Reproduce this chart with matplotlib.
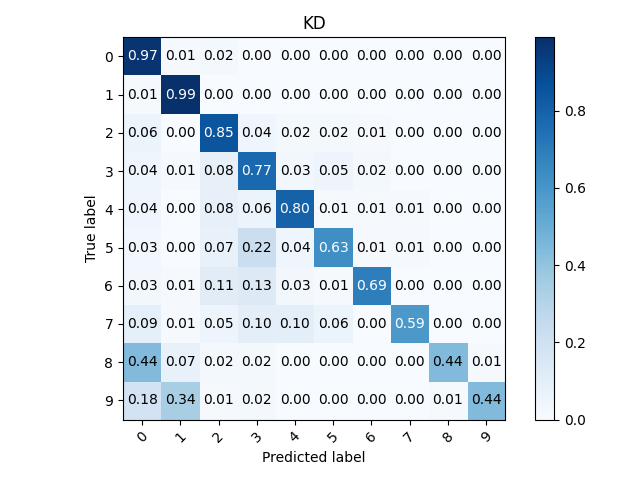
import numpy as np
import matplotlib
matplotlib.use("Agg")
import matplotlib.pyplot as plt

classes = [str(i) for i in range(10)]
cm = np.array([
    [0.97, 0.01, 0.02, 0.00, 0.00, 0.00, 0.00, 0.00, 0.00, 0.00],
    [0.01, 0.99, 0.00, 0.00, 0.00, 0.00, 0.00, 0.00, 0.00, 0.00],
    [0.06, 0.00, 0.85, 0.04, 0.02, 0.02, 0.01, 0.00, 0.00, 0.00],
    [0.04, 0.01, 0.08, 0.77, 0.03, 0.05, 0.02, 0.00, 0.00, 0.00],
    [0.04, 0.00, 0.08, 0.06, 0.80, 0.01, 0.01, 0.01, 0.00, 0.00],
    [0.03, 0.00, 0.07, 0.22, 0.04, 0.63, 0.01, 0.01, 0.00, 0.00],
    [0.03, 0.01, 0.11, 0.13, 0.03, 0.01, 0.69, 0.00, 0.00, 0.00],
    [0.09, 0.01, 0.05, 0.10, 0.10, 0.06, 0.00, 0.59, 0.00, 0.00],
    [0.44, 0.07, 0.02, 0.02, 0.00, 0.00, 0.00, 0.00, 0.44, 0.01],
    [0.18, 0.34, 0.01, 0.02, 0.00, 0.00, 0.00, 0.00, 0.01, 0.44],
])

fig = plt.figure(figsize=(6.4, 4.8), dpi=100)
plt.imshow(cm, interpolation='nearest', cmap=plt.cm.Blues)
plt.title('KD')
plt.colorbar()
tick_marks = np.arange(len(classes))
plt.xticks(tick_marks, classes, rotation=45)
plt.yticks(tick_marks, classes)
thresh = cm.max() / 2.
for i in range(cm.shape[0]):
    for j in range(cm.shape[1]):
        plt.text(j, i, format(cm[i, j], '.2f'), horizontalalignment="center",
                 verticalalignment="center",
                 color="white" if cm[i, j] > thresh else "black")
plt.ylabel('True label')
plt.xlabel('Predicted label')
plt.tight_layout()
plt.savefig('out.png', dpi=100)
